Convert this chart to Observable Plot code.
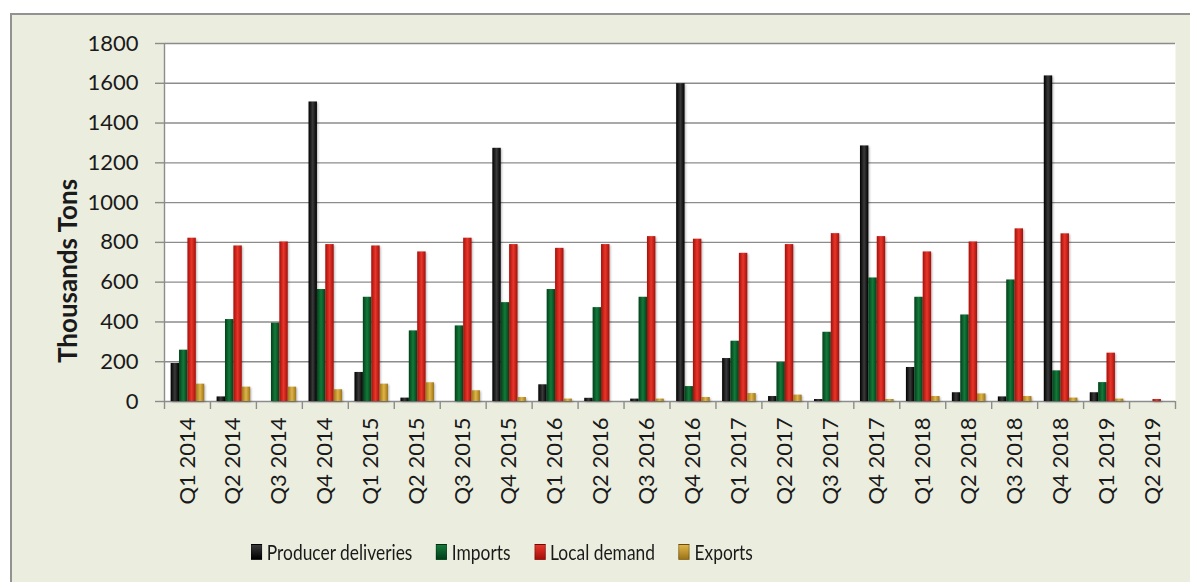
<!DOCTYPE html>
<html>
<head>
<meta charset="utf-8">
<script src="https://cdn.jsdelivr.net/npm/d3@7"></script>
<script src="https://cdn.jsdelivr.net/npm/@observablehq/plot@0.6"></script>
<style>
  html, body { margin: 0; padding: 0; background: #ffffff; width: 1190px; height: 582px; overflow: hidden; }
  #frame { position: absolute; left: 10px; top: 13px; width: 1200px; height: 600px; background: #ebeedf; border-left: 2px solid #929292; border-top: 2px solid #929292; }
  #chart { position: absolute; left: 0; top: 0; }
  #chart svg g[aria-label="rect"] { filter: drop-shadow(1px 1px 1px rgba(0,0,0,0.3)); }
  #ytitle { position: absolute; left: 67px; top: 271px; transform: translate(-50%, -50%) rotate(-90deg);
            font-family: Lato, sans-serif; font-weight: bold; font-size: 26px; color: #1a1a1a; white-space: nowrap; line-height: 1; }
  #legend { position: absolute; left: 251px; top: 538px; display: flex; align-items: center; white-space: nowrap;
            font-family: Lato, sans-serif; font-size: 22px; color: #1a1a1a; transform: scaleX(0.79); transform-origin: left center; }
  #legend .item { display: flex; align-items: center; margin-right: 30px; }
  #legend .sw { width: 14px; height: 16px; margin-right: 6px; box-sizing: border-box; border: 1px solid rgba(0,0,0,0.35); }
</style>
</head>
<body>
<div id="frame"></div>
<div id="chart"></div>
<div id="ytitle"></div>
<div id="legend"></div>
<script>
// ---- data ----
const quarters = ["Q1 2014","Q2 2014","Q3 2014","Q4 2014","Q1 2015","Q2 2015","Q3 2015","Q4 2015",
                  "Q1 2016","Q2 2016","Q3 2016","Q4 2016","Q1 2017","Q2 2017","Q3 2017","Q4 2017",
                  "Q1 2018","Q2 2018","Q3 2018","Q4 2018","Q1 2019","Q2 2019"];
const seriesNames = ["Producer deliveries", "Imports", "Local demand", "Exports"];
const producerDeliveries = [191, 23, 0, 1506, 146, 17, 0, 1273, 84, 16, 12, 1598, 216, 25, 10, 1285, 171, 44, 23, 1637, 44, 0];
const imports            = [258, 412, 394, 563, 524, 355, 380, 497, 563, 472, 524, 75, 303, 196, 348, 621, 524, 435, 611, 154, 95, 0];
const localDemand        = [821, 782, 802, 789, 782, 752, 821, 789, 770, 789, 829, 816, 745, 789, 844, 829, 752, 802, 868, 843, 243, 10];
const exportsT           = [87, 72, 72, 59, 87, 94, 54, 20, 12, 0, 12, 20, 40, 32, 0, 10, 25, 38, 25, 17, 12, 0];
const yTicks = [0, 200, 400, 600, 800, 1000, 1200, 1400, 1600, 1800];
const yTitle = "Thousands Tons";

// ---- styles ----
const gradStops = [
  ["#000000", "#3a3a3a", "#000000"],
  ["#033f1a", "#137a3a", "#033f1a"],
  ["#a50f0a", "#e8362a", "#a50f0a"],
  ["#9c7418", "#e0b448", "#9c7418"]
];
const grid = "#8c8c8c";
const groupPad = 0.145, barW = 0.1825;

const series = [producerDeliveries, imports, localDemand, exportsT];
const rows = quarters.flatMap((q, i) => series.map((arr, s) => ({i, q, s, series: seriesNames[s], value: arr[i]})));

const svg = Plot.plot({
  width: 1190,
  height: 515,
  marginLeft: 164,
  marginRight: 15,
  marginTop: 43,
  marginBottom: 114,
  style: {fontFamily: "Lato, sans-serif", fontSize: "22px", color: "#1a1a1a", background: "transparent", overflow: "visible"},
  x: {domain: [0, quarters.length], axis: null},
  y: {domain: [0, 1800], axis: null},
  color: {type: "ordinal", domain: seriesNames, range: seriesNames.map((d, k) => `url(#grad${k})`)},
  marks: [
    Plot.frame({fill: "white", stroke: null}),
    Plot.gridY(yTicks, {stroke: grid, strokeOpacity: 1, strokeWidth: 1.4}),
    Plot.axisY({ticks: yTicks, tickSize: 9, tickPadding: 17, tickFormat: d3.format("d"), stroke: grid, strokeWidth: 1.4, fill: "#1a1a1a", label: null}),
    Plot.axisX({ticks: d3.range(0, quarters.length + 1), tickSize: 8, tickFormat: () => "", stroke: grid, strokeWidth: 1.4, label: null}),
    Plot.axisX({ticks: quarters.map((q, i) => i + 0.5), tickSize: 0, tickPadding: 16, tickRotate: -90,
                tickFormat: v => quarters[Math.floor(v)], fill: "#1a1a1a", label: null}),
    Plot.ruleX([0], {y1: 0, y2: 1800, stroke: grid, strokeWidth: 1.4}),
    Plot.rectY(rows, {
      x1: d => d.i + groupPad + d.s * barW,
      x2: d => d.i + groupPad + (d.s + 1) * barW,
      y1: 0,
      y2: "value",
      fill: "series"
    })
  ]
});

const defs = gradStops.map((st, k) => `<linearGradient id="grad${k}" x1="0" y1="0" x2="1" y2="0">
  <stop offset="0" stop-color="${st[0]}"/><stop offset="0.5" stop-color="${st[1]}"/><stop offset="1" stop-color="${st[2]}"/></linearGradient>`).join("");
svg.insertAdjacentHTML("afterbegin", `<defs>${defs}</defs>`);
document.getElementById("chart").appendChild(svg);

document.getElementById("ytitle").textContent = yTitle;

// legend
const legend = document.getElementById("legend");
seriesNames.forEach((name, k) => {
  const item = document.createElement("div");
  item.className = "item";
  const sw = document.createElement("span");
  sw.className = "sw";
  sw.style.background = `linear-gradient(to bottom, ${gradStops[k][1]}, ${gradStops[k][0]})`;
  const label = document.createElement("span");
  label.textContent = name;
  item.appendChild(sw);
  item.appendChild(label);
  legend.appendChild(item);
});
</script>
</body>
</html>
